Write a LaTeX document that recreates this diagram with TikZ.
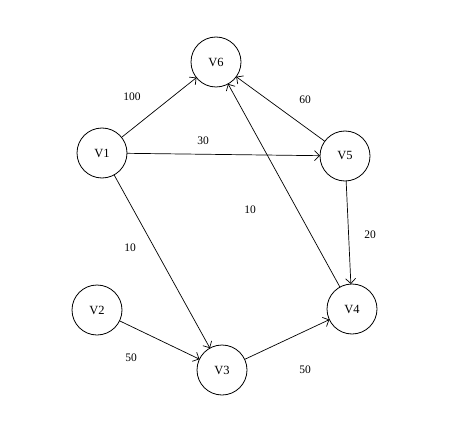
\documentclass[tikz,border=0pt]{standalone}
\usepackage{fontspec}
\setmainfont{Liberation Serif}
\usepackage{tikz}
\usetikzlibrary{arrows.meta}
\tikzset{
    vertex/.style = {circle,
    draw,
    fill=white,
    minimum size = 50pt,
    inner sep = 0pt,
    outer sep = 0pt,
    line width = 0.8pt,
    font = \fontsize{12.5}{14}\selectfont},
    weight/.style = {font = \fontsize{11.5}{13}\selectfont},
    edge/.style = {-{Straight Barb[length=5pt,width=10pt]}, line width = 0.7pt}
}

\begin{document}
\begin{tikzpicture}[x=1pt,y=-1pt]
    \useasboundingbox (0,0) rectangle (465,422);
    \node [vertex] (V6) at (216,62) {V6};
    \node [vertex] (V1) at (102,153) {V1};
    \node [vertex] (V5) at (345,156) {V5};
    \node [vertex] (V2) at (97,310) {V2};
    \node [vertex] (V3) at (222,370) {V3};
    \node [vertex] (V4) at (352,309) {V4};
    % edges
    \draw [edge] (V1) -- (V6);
    \draw [edge] (V1) -- (V5);
    \draw [edge] (V1) -- (V3);
    \draw [edge] (V5) -- (V6);
    \draw [edge] (V5) -- (V4);
    \draw [edge] (V4) -- (V6);
    \draw [edge] (V2) -- (V3);
    \draw [edge] (V3) -- (V4);
    % weights
    \node [weight] (w16) at (132,97) {100};
    \node [weight] (w15) at (203,141) {30};
    \node [weight] (w56) at (305,100) {60};
    \node [weight] (w13) at (130,248) {10};
    \node [weight] (w46) at (250,210) {10};
    \node [weight] (w54) at (370,235) {20};
    \node [weight] (w23) at (131,358) {50};
    \node [weight] (w34) at (305,370) {50};
\end{tikzpicture}
\end{document}
